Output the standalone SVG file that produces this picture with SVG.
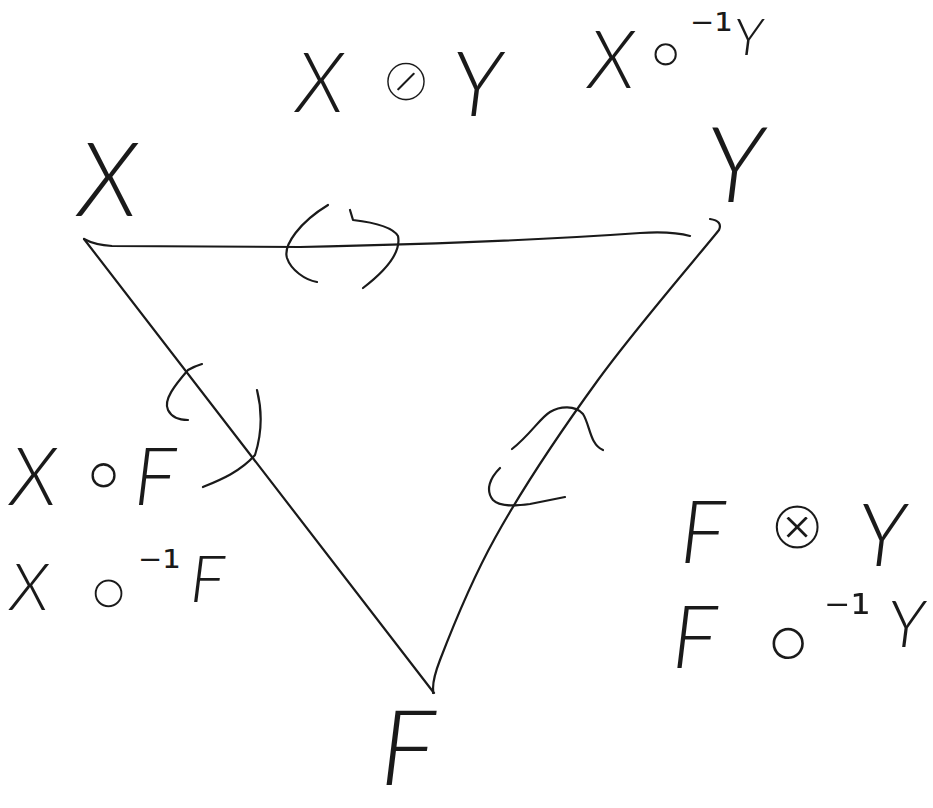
<svg xmlns="http://www.w3.org/2000/svg" width="933" height="808" viewBox="0 0 933 808">
<style>
.t{font-family:"Lato","Inter","DejaVu Sans",sans-serif;font-style:italic;font-weight:300;fill:#1a1a1a}
.op{font-family:"DejaVu Sans",sans-serif;font-style:normal;font-weight:normal;stroke:#ffffff;stroke-width:3}
.op2{font-family:"DejaVu Sans",sans-serif;font-style:normal;font-weight:normal;stroke:#ffffff;stroke-width:4.5}
.sup{font-family:"DejaVu Sans",sans-serif;font-style:normal;font-weight:normal}
.e{fill:none;stroke:#1a1a1a;stroke-width:2.2;stroke-linecap:round;stroke-linejoin:round}
.a{fill:none;stroke:#1a1a1a;stroke-width:2.2;stroke-linecap:round;stroke-linejoin:round}
</style>
<rect width="933" height="808" fill="#ffffff"/>
<g id="connectors">
<path class="e" d="M84,239 Q95,245 112,246 L300,247 Q500,243 640,233 Q672,231 690,236"/>
<path class="e" d="M84,239 L434,693"/>
<path class="e" d="M710,219 Q723,221 719,230 C699,255 635,329 598,380 C561,431 521,491 495,538 C469,585 450,634 440,660 C430,686 434,688 433,693"/>
<path class="a" d="M328,205 C300,222 283,245 287,258 C291,270 305,280 317,282"/>
<path class="a" d="M350,210 L353,220 C370,222 392,226 398,236 C402,255 380,275 363,288"/>
<path class="a" d="M202,364 Q195,366 188,370 C175,385 163,400 168,410 C172,418 180,420 188,420"/>
<path class="a" d="M257,390 C262,410 263,430 255,455 C240,472 220,480 203,487"/>
<path class="a" d="M512,449 C530,435 540,418 550,412 C560,406 575,405 583,414 C590,425 590,445 603,450"/>
<path class="a" d="M500,468 C490,478 485,490 493,500 C500,507 515,506 530,504 L565,497"/>
</g>
<g id="node-X"><text class="t" x="78" y="216" font-size="102">X</text></g>
<g id="node-Y"><text class="t" x="706" y="202" font-size="104">Y</text></g>
<g id="node-F"><text class="t" x="380" y="785" font-size="105">F</text></g>
<g id="label-XoY"><text class="t" font-size="82"><tspan x="296" y="112">X</tspan><tspan class="op" x="380" y="101" font-size="62">⊘</tspan><tspan x="452" y="116" font-size="90">Y</tspan></text></g>
<g id="label-Xo-1Y"><text class="t" font-size="80"><tspan x="588" y="88">X</tspan><tspan class="op" x="640" y="80" font-size="82">∘</tspan><tspan class="sup" x="690" y="46" font-size="46">⁻¹</tspan><tspan x="734" y="55" font-size="52">Y</tspan></text></g>
<g id="label-XoF"><text class="t" font-size="80"><tspan x="10" y="505">X</tspan><tspan class="op" x="76" y="503" font-size="88">∘</tspan><tspan x="134" y="505">F</tspan></text></g>
<g id="label-Xo-1F"><text class="t" font-size="66"><tspan x="10" y="610">X</tspan><tspan class="op2" x="76" y="626" font-size="104">∘</tspan><tspan class="sup" x="138" y="583" font-size="46">⁻¹</tspan><tspan x="190" y="602">F</tspan></text></g>
<g id="label-FoxY"><text class="t" font-size="86"><tspan x="680" y="563">F</tspan><tspan class="op" x="768" y="549" font-size="70">⊗</tspan><tspan x="858" y="566">Y</tspan></text></g>
<g id="label-Fo-1Y"><text class="t" font-size="86"><tspan x="672" y="668">F</tspan><tspan class="op2" x="752" y="680" font-size="116">∘</tspan><tspan class="sup" x="824" y="630" font-size="50">⁻¹</tspan><tspan x="888" y="647" font-size="66">Y</tspan></text></g>
</svg>
